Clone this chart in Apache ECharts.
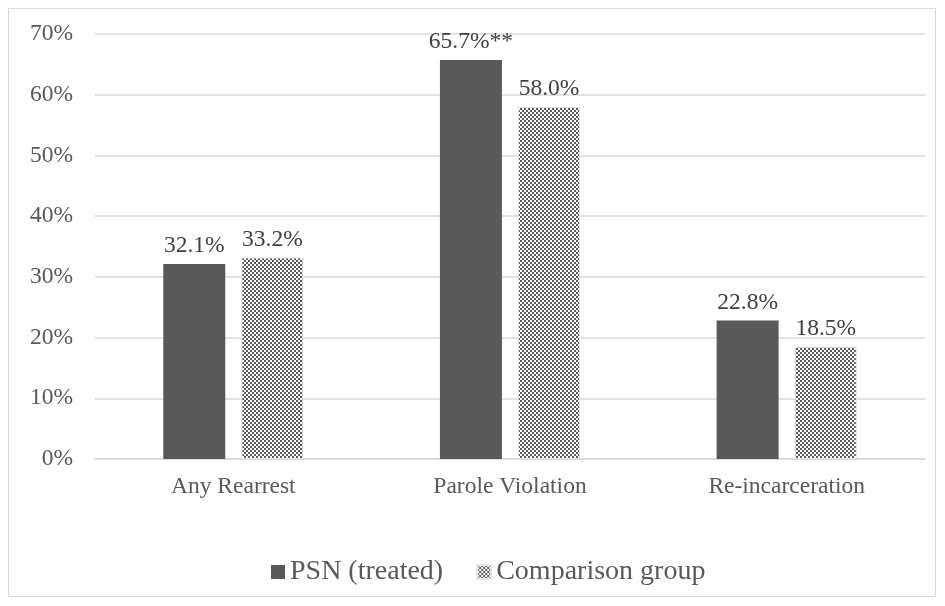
<!DOCTYPE html>
<html>
<head>
<meta charset="utf-8">
<script src="https://cdn.jsdelivr.net/npm/echarts@6/dist/echarts.min.js"></script>
<style>
html,body{margin:0;padding:0;background:#fff;}
#frame{position:absolute;left:8px;top:8px;width:928px;height:589px;border:1px solid #d9d9d9;box-sizing:border-box;}
#chart{position:absolute;left:0;top:0;width:945px;height:606px;}
</style>
</head>
<body>
<div id="frame"></div>
<div id="chart"></div>
<script>
const categories = ['Any Rearrest', 'Parole Violation', 'Re-incarceration'];
const psnValues = [32.1, 65.7, 22.8];
const comparisonValues = [33.2, 58.0, 18.5];
const psnSuffix = ['', '**', ''];
const yTicks = [0, 10, 20, 30, 40, 50, 60, 70];

// Small checker tile for the comparison bars
function checkerTile() {
  const c = document.createElement('canvas');
  c.width = 4; c.height = 4;
  const g = c.getContext('2d');
  g.fillStyle = '#ffffff';
  g.fillRect(0, 0, 4, 4);
  g.fillStyle = '#5a5a5a';
  g.fillRect(0, 0, 2, 2);
  g.fillRect(2, 2, 2, 2);
  return c;
}

const serif = '"Liberation Serif", "DejaVu Serif", serif';
const chart = echarts.init(document.getElementById('chart'));
chart.setOption({
  animation: false,
  textStyle: { fontFamily: serif },
  grid: { left: 95, right: 20, top: 34, bottom: 147 },
  legend: {
    top: 553,
    left: 266,
    itemWidth: 14,
    itemHeight: 14,
    itemGap: 33,
    icon: 'rect',
    textStyle: { fontFamily: serif, fontSize: 28, color: '#595959' },
    data: ['PSN (treated)', 'Comparison group']
  },
  xAxis: {
    type: 'category',
    data: categories,
    axisLine: { lineStyle: { color: '#d9d9d9', width: 1.5 } },
    axisTick: { show: false },
    axisLabel: { fontFamily: serif, fontSize: 23.5, color: '#595959', margin: 16 }
  },
  yAxis: {
    type: 'value',
    min: yTicks[0],
    max: yTicks[yTicks.length - 1],
    interval: 10,
    axisLine: { show: false },
    axisTick: { show: false },
    splitLine: { lineStyle: { color: '#d9d9d9', width: 1.5 } },
    axisLabel: { fontFamily: serif, fontSize: 23.5, color: '#595959', margin: 22, formatter: '{value}%' }
  },
  series: [
    {
      name: 'PSN (treated)',
      type: 'bar',
      data: psnValues,
      barWidth: 62,
      barGap: '26%',
      itemStyle: { color: '#595959' },
      label: {
        show: true, position: 'top', distance: 6,
        fontFamily: serif, fontSize: 23.5, color: '#404040',
        formatter: p => p.value.toFixed(1) + '%' + psnSuffix[p.dataIndex]
      }
    },
    {
      name: 'Comparison group',
      type: 'bar',
      data: comparisonValues,
      barWidth: 62,
      itemStyle: {
        color: { image: checkerTile(), repeat: 'repeat' },
        borderColor: '#e6e6e6', borderWidth: 1
      },
      label: {
        show: true, position: 'top', distance: 6,
        fontFamily: serif, fontSize: 23.5, color: '#404040',
        formatter: p => p.value.toFixed(1) + '%'
      }
    }
  ]
});
</script>
</body>
</html>
